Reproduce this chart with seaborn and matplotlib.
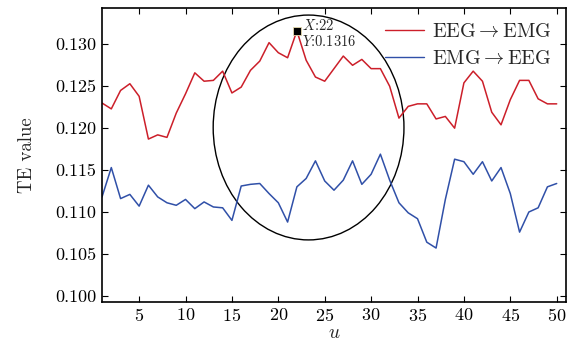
import numpy as np
import pandas as pd
import seaborn as sns
import matplotlib
matplotlib.use("Agg")
import matplotlib.pyplot as plt
from matplotlib.patches import Ellipse

u = list(range(1, 51))
eeg_to_emg = [0.1230, 0.1223, 0.1245, 0.1253, 0.1238, 0.1187, 0.1192, 0.1189, 0.1218, 0.1241,
              0.1266, 0.1256, 0.1257, 0.1268, 0.1242, 0.1249, 0.1269, 0.1280, 0.1302, 0.1290,
              0.1284, 0.1316, 0.1281, 0.1261, 0.1256, 0.1271, 0.1286, 0.1275, 0.1282, 0.1271,
              0.1271, 0.1250, 0.1212, 0.1226, 0.1229, 0.1229, 0.1211, 0.1214, 0.1200, 0.1254,
              0.1268, 0.1256, 0.1219, 0.1204, 0.1234, 0.1257, 0.1257, 0.1235, 0.1229, 0.1229]
emg_to_eeg = [0.1118, 0.1153, 0.1116, 0.1121, 0.1107, 0.1132, 0.1118, 0.1111, 0.1108, 0.1115,
              0.1104, 0.1112, 0.1106, 0.1105, 0.1090, 0.1131, 0.1133, 0.1134, 0.1122, 0.1111,
              0.1088, 0.1130, 0.1140, 0.1161, 0.1137, 0.1126, 0.1138, 0.1161, 0.1133, 0.1145,
              0.1169, 0.1138, 0.1111, 0.1099, 0.1092, 0.1064, 0.1057, 0.1115, 0.1163, 0.1160,
              0.1145, 0.1160, 0.1137, 0.1153, 0.1122, 0.1076, 0.1100, 0.1105, 0.1130, 0.1134]
series_names = [r"EEG$\rightarrow$EMG", r"EMG$\rightarrow$EEG"]
series_colors = ["#cc1f2a", "#3050a8"]
x_ticks = [5, 10, 15, 20, 25, 30, 35, 40, 45, 50]
y_ticks = [0.100, 0.105, 0.110, 0.115, 0.120, 0.125, 0.130]
peak_u, peak_val = 22, 0.1316
ellipse_center = (23.26, 0.12008)
ellipse_w, ellipse_h = 20.56, 0.02682

sns.set_style("ticks")
plt.rcParams["font.family"] = ["cmr10", "DejaVu Serif"]
plt.rcParams["mathtext.fontset"] = "cm"
plt.rcParams["axes.formatter.use_mathtext"] = True
plt.rcParams["axes.unicode_minus"] = False

df = pd.DataFrame({
    "u": u * 2,
    "val": eeg_to_emg + emg_to_eeg,
    "series": [series_names[0]] * len(u) + [series_names[1]] * len(u),
})

fig = plt.figure(figsize=(5.79, 3.45), dpi=100)
ax = fig.add_axes([0.1762, 0.1255, 0.8013, 0.8505])
sns.lineplot(data=df, x="u", y="val", hue="series", palette=series_colors,
             hue_order=series_names, linewidth=1.1, ax=ax)

ax.set_xlim(1, 51)
ax.set_ylim(0.0993, 0.1343)
ax.set_xticks(x_ticks)
ax.set_yticks(y_ticks)
ax.set_yticklabels([f"{v:.3f}" for v in y_ticks])
ax.tick_params(direction="in", top=True, right=True, length=4, width=0.8,
               labelsize=13, colors="black", pad=4)
for s in ax.spines.values():
    s.set_linewidth(1.2)
    s.set_color("black")
ax.set_xlabel(r"$u$", fontsize=14, labelpad=0)
ax.set_ylabel("TE value", fontsize=13.5, labelpad=14)

ax.add_patch(Ellipse(ellipse_center, ellipse_w, ellipse_h, fill=False,
                     edgecolor="black", linewidth=1.0))
ax.plot([peak_u], [peak_val], marker="s", markersize=6, color="black",
        markeredgecolor="#e8dcb0", markeredgewidth=0.6, linestyle="none")
ax.text(peak_u + 0.6, 0.13315, f"$X$:{peak_u}\n$Y$:{peak_val}", fontsize=10.5,
        ha="left", va="top", linespacing=1.05)

leg = ax.legend(loc="upper right", frameon=False, fontsize=14.5, handlelength=1.9,
                borderaxespad=0.35, labelspacing=0.4, handletextpad=0.4)
for line in leg.get_lines():
    line.set_linewidth(1.0)

fig.savefig("out.png", dpi=100)
